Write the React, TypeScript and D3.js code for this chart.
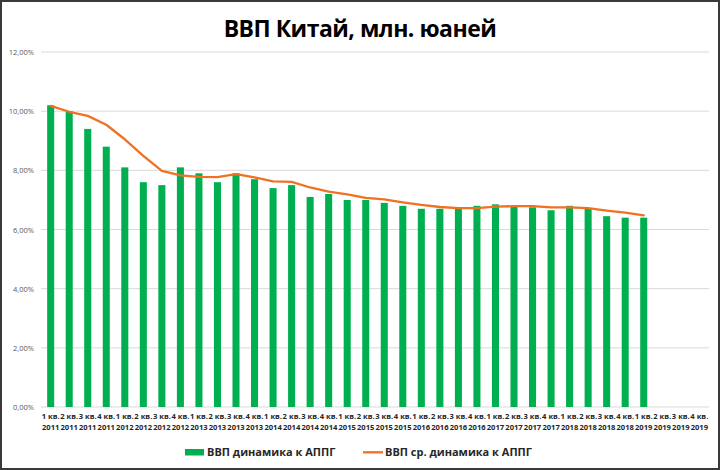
import React from "react";
import * as d3 from "d3";

const quarters = ["1 кв.", "2 кв.", "3 кв.", "4 кв."];
const years = ["2011", "2012", "2013", "2014", "2015", "2016", "2017", "2018", "2019"];
const categories: string[] = years.flatMap((y) => quarters.map((q) => `${q} ${y}`));

const barValues = [
  10.2, 10.0, 9.4, 8.8,
  8.1, 7.6, 7.5, 8.1,
  7.9, 7.6, 7.9, 7.7,
  7.4, 7.5, 7.1, 7.2,
  7.0, 7.0, 6.9, 6.8,
  6.7, 6.7, 6.7, 6.8,
  6.85, 6.8, 6.75, 6.65,
  6.8, 6.7, 6.45, 6.4,
  6.4,
];

const lineValues = [
  10.18, 9.98, 9.84, 9.54,
  9.05, 8.49, 7.98, 7.83,
  7.78, 7.77, 7.87, 7.76,
  7.63, 7.61, 7.42, 7.28,
  7.19, 7.07, 7.02, 6.92,
  6.83, 6.76, 6.72, 6.72,
  6.77, 6.79, 6.79, 6.75,
  6.75, 6.72, 6.64, 6.57,
  6.48,
];

const yTicks = [0, 2, 4, 6, 8, 10, 12];

const W = 720;
const H = 470;
const green = "#00B050";
const orange = "#F07122";
const font = "'Open Sans', 'Noto Sans', sans-serif";

export default function App() {
  const x = d3
    .scaleBand<string>()
    .domain(categories)
    .range([41.4, 708.6])
    .paddingInner(0.62)
    .paddingOuter(0.31);
  const y = d3.scaleLinear().domain([0, 12]).range([407, 52]);
  const cx = (i: number) => (x(categories[i]) as number) + x.bandwidth() / 2;

  const line = d3
    .line<number>()
    .x((_, i) => cx(i))
    .y((d) => y(d));

  return (
    <div style={{ position: "absolute", left: 0, top: 0 }}>
      <svg width={W} height={H} style={{ display: "block" }}>
        <rect x={0} y={0} width={W} height={H} fill="#ffffff" />
        <rect x={1} y={1} width={W - 2} height={H - 2} fill="none" stroke="#3a3a3a" strokeWidth={2} />
        <text x={360} y={37} textAnchor="middle" fontFamily={font} fontWeight={700} fontSize={23} fill="#000" letterSpacing={-0.5}>
          ВВП Китай, млн. юаней
        </text>
        {yTicks.map((t) => (
          <g key={t}>
            <line x1={41} x2={709} y1={y(t)} y2={y(t)} stroke="#d9d9d9" strokeWidth={1} />
            <text x={34} y={y(t) + 3} textAnchor="end" fontFamily={font} fontSize={7.5} fill="#595959">
              {t.toFixed(2).replace(".", ",")}%
            </text>
          </g>
        ))}
        {barValues.map((v, i) => (
          <rect key={i} x={x(categories[i])} y={y(v)} width={x.bandwidth()} height={y(0) - y(v)} fill={green} />
        ))}
        <path d={line(lineValues) || ""} fill="none" stroke={orange} strokeWidth={2.3} strokeLinejoin="round" strokeLinecap="round" />
        {categories.map((c, i) => {
          const q = quarters[i % 4];
          const yr = years[Math.floor(i / 4)];
          return (
            <g key={c} fontFamily={font} fontSize={7.6} fontWeight={700} fill="#262626" textAnchor="middle">
              <text x={cx(i)} y={419}>{q}</text>
              <text x={cx(i)} y={430}>{yr}</text>
            </g>
          );
        })}
        <g fontFamily={font} fontSize={11} fontWeight={700} fill="#262626">
          <rect x={185} y={449} width={19} height={6.5} fill={green} />
          <text x={207} y={456}>ВВП динамика к АППГ</text>
          <line x1={363} x2={383} y1={452.3} y2={452.3} stroke={orange} strokeWidth={2.3} />
          <text x={385} y={456}>ВВП ср. динамика к АППГ</text>
        </g>
      </svg>
    </div>
  );
}
